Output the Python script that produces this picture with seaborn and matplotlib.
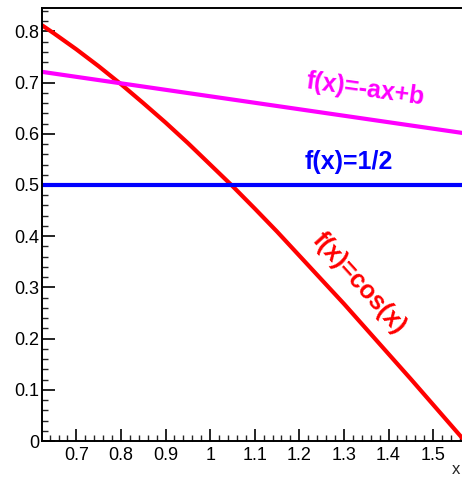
import numpy as np
import pandas as pd
import matplotlib
matplotlib.use("Agg")
import matplotlib.pyplot as plt
from matplotlib.ticker import MultipleLocator, FuncFormatter
import seaborn as sns

# Sampled curves over [pi/5, pi/2]
x_cos = [0.623, 0.65, 0.7, 0.75, 0.8, 0.85, 0.9, 0.95, 1.0, 1.05, 1.1,
         1.15, 1.2, 1.25, 1.3, 1.35, 1.4, 1.45, 1.5, 1.55, 1.571]
y_cos = [0.812, 0.796, 0.765, 0.732, 0.697, 0.660, 0.622, 0.582, 0.540,
         0.498, 0.454, 0.409, 0.362, 0.315, 0.268, 0.219, 0.170, 0.121,
         0.071, 0.021, 0.0]

x_lin = [0.623, 1.571]
y_lin = [0.721, 0.601]

x_half = [0.623, 1.571]
y_half = [0.5, 0.5]

labels = ["f(x)=cos(x)", "f(x)=-ax+b", "f(x)=1/2"]
colors = ["#ff0000", "#ff00ff", "#0000ff"]

sns.set_style("ticks")
plt.rcParams["font.family"] = ["Liberation Sans", "DejaVu Sans"]

fig = plt.figure(figsize=(4.62, 4.79), dpi=100)
ax = fig.add_axes([42 / 462, 1 - 441 / 479, 422.7 / 462, 433 / 479])

df_cos = pd.DataFrame({"x": x_cos, "y": y_cos})
df_lin = pd.DataFrame({"x": x_lin, "y": y_lin})
df_half = pd.DataFrame({"x": x_half, "y": y_half})

for df, c in zip([df_cos, df_lin, df_half], colors):
    sns.lineplot(data=df, x="x", y="y", ax=ax, color=c, lw=3.0,
                 sort=False, estimator=None)

ax.set_xlim(0.623, 1.5708)
ax.set_ylim(0, 0.8457)
ax.set_xlabel("")
ax.set_ylabel("")

ax.xaxis.set_major_locator(MultipleLocator(0.1))
ax.xaxis.set_minor_locator(MultipleLocator(0.02))
ax.yaxis.set_major_locator(MultipleLocator(0.1))
ax.yaxis.set_minor_locator(MultipleLocator(0.02))
fmt = FuncFormatter(lambda v, p: ("%g" % round(v, 3)))
ax.xaxis.set_major_formatter(fmt)
ax.yaxis.set_major_formatter(fmt)

ax.tick_params(which="major", direction="in", length=9, width=1.2,
               labelsize=13, colors="black")
ax.tick_params(which="minor", direction="in", length=4.5, width=1.0)
ax.tick_params(axis="x", which="major", pad=4)
ax.tick_params(axis="y", which="major", pad=2)

for side in ["left", "bottom", "top"]:
    ax.spines[side].set_visible(True)
    ax.spines[side].set_linewidth(1.4)
    ax.spines[side].set_color("black")
ax.spines["right"].set_visible(False)

# Curve annotations
ax.text(1.334, 0.309, labels[0], color=colors[0], fontsize=18,
        fontweight="bold", rotation=-48, rotation_mode="anchor",
        ha="center", va="center")
ax.text(1.348, 0.686, labels[1], color=colors[1], fontsize=18,
        fontweight="bold", rotation=-8, rotation_mode="anchor",
        ha="center", va="center")
ax.text(1.312, 0.545, labels[2], color=colors[2], fontsize=18,
        fontweight="bold", ha="center", va="center")

fig.text(452 / 462, 1 - 462 / 479, "x", fontsize=12, ha="left", va="top")

fig.savefig("out.png", dpi=100)
